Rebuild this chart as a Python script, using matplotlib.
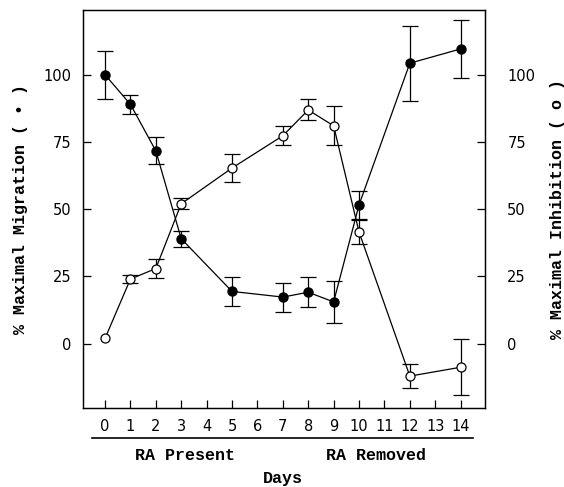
import numpy as np
import matplotlib
matplotlib.use("Agg")
import matplotlib.pyplot as plt
import matplotlib.transforms as mtransforms

# days
days = [0, 1, 2, 3, 5, 7, 8, 9, 10, 12, 14]

# % maximal migration (filled circles, left axis)
migration = [100, 89, 71.7, 39, 19.4, 17.3, 19.1, 15.5, 51.6, 104.3, 109.6]
migration_err = [9, 3.5, 5, 3, 5.3, 5.4, 5.6, 7.9, 5.1, 14, 10.8]

# % maximal inhibition (open circles, right axis); no error bar shown at day 0
inhibition = [1.9, 24, 27.9, 52, 65.3, 77.3, 86.9, 81, 41.5, -12.1, -8.8]
inhibition_err = [np.nan, 1.5, 3.5, 2, 5.2, 3.5, 3.9, 7.3, 4.4, 4.6, 10.5]

yticks = [0, 25, 50, 75, 100]
xticks = list(range(0, 15))

label_font = ['Liberation Mono', 'DejaVu Sans']
tick_font = ['DejaVu Sans']

fig = plt.figure(figsize=(5.64, 4.87), dpi=100)
ax = fig.add_axes([0.147, 0.162, 0.713, 0.817])

ax.errorbar(days, inhibition, yerr=inhibition_err, color='black', lw=0.9,
            marker='o', ms=6.5, mfc='white', mec='black', mew=0.9,
            capsize=5.5, elinewidth=0.9, capthick=0.9, zorder=3)
ax.errorbar(days, migration, yerr=migration_err, color='black', lw=0.9,
            marker='o', ms=6.5, mfc='black', mec='black',
            capsize=5.5, elinewidth=0.9, capthick=0.9, zorder=4)

ax.set_xlim(-0.87, 14.96)
ax.set_ylim(-24, 124)
ax.set_xticks(xticks)
ax.set_yticks(yticks)
ax.tick_params(direction='in', length=6, width=0.9)
ax.tick_params(axis='x', pad=8)
ax.tick_params(axis='y', pad=8)
for lab in ax.get_xticklabels() + ax.get_yticklabels():
    lab.set_family(tick_font)
    lab.set_fontsize(10.5)

ax2 = ax.twinx()
ax2.set_ylim(ax.get_ylim())
ax2.set_yticks(yticks)
ax2.tick_params(direction='in', length=6, width=0.9, pad=16)
for lab in ax2.get_yticklabels():
    lab.set_family(tick_font)
    lab.set_fontsize(10.5)

for a in (ax, ax2):
    for s in a.spines.values():
        s.set_linewidth(0.9)

ax.set_ylabel('% Maximal Migration ( \u2022 )', family=label_font,
              fontsize=12, weight='bold')
ax.yaxis.set_label_coords(-0.137, 0.5)
ax2.set_ylabel('% Maximal Inhibition ( o )', family=label_font,
               fontsize=12, weight='bold')
ax2.yaxis.set_label_coords(1.162, 0.5)

# line under the day labels and the two phase labels
trans = mtransforms.blended_transform_factory(ax.transData, fig.transFigure)
ax.plot([-0.5, 14.5], [0.1006, 0.1006], color='black', lw=1.2,
        transform=trans, clip_on=False)
ax.text(3.15, 0.064, 'RA Present', transform=trans, ha='center', va='center',
        family=label_font, fontsize=12, weight='bold')
ax.text(10.67, 0.064, 'RA Removed', transform=trans, ha='center', va='center',
        family=label_font, fontsize=12, weight='bold')
ax.text(7.0, 0.018, 'Days', transform=trans, ha='center', va='center',
        family=label_font, fontsize=12, weight='bold')

fig.savefig('out.png', dpi=100)
